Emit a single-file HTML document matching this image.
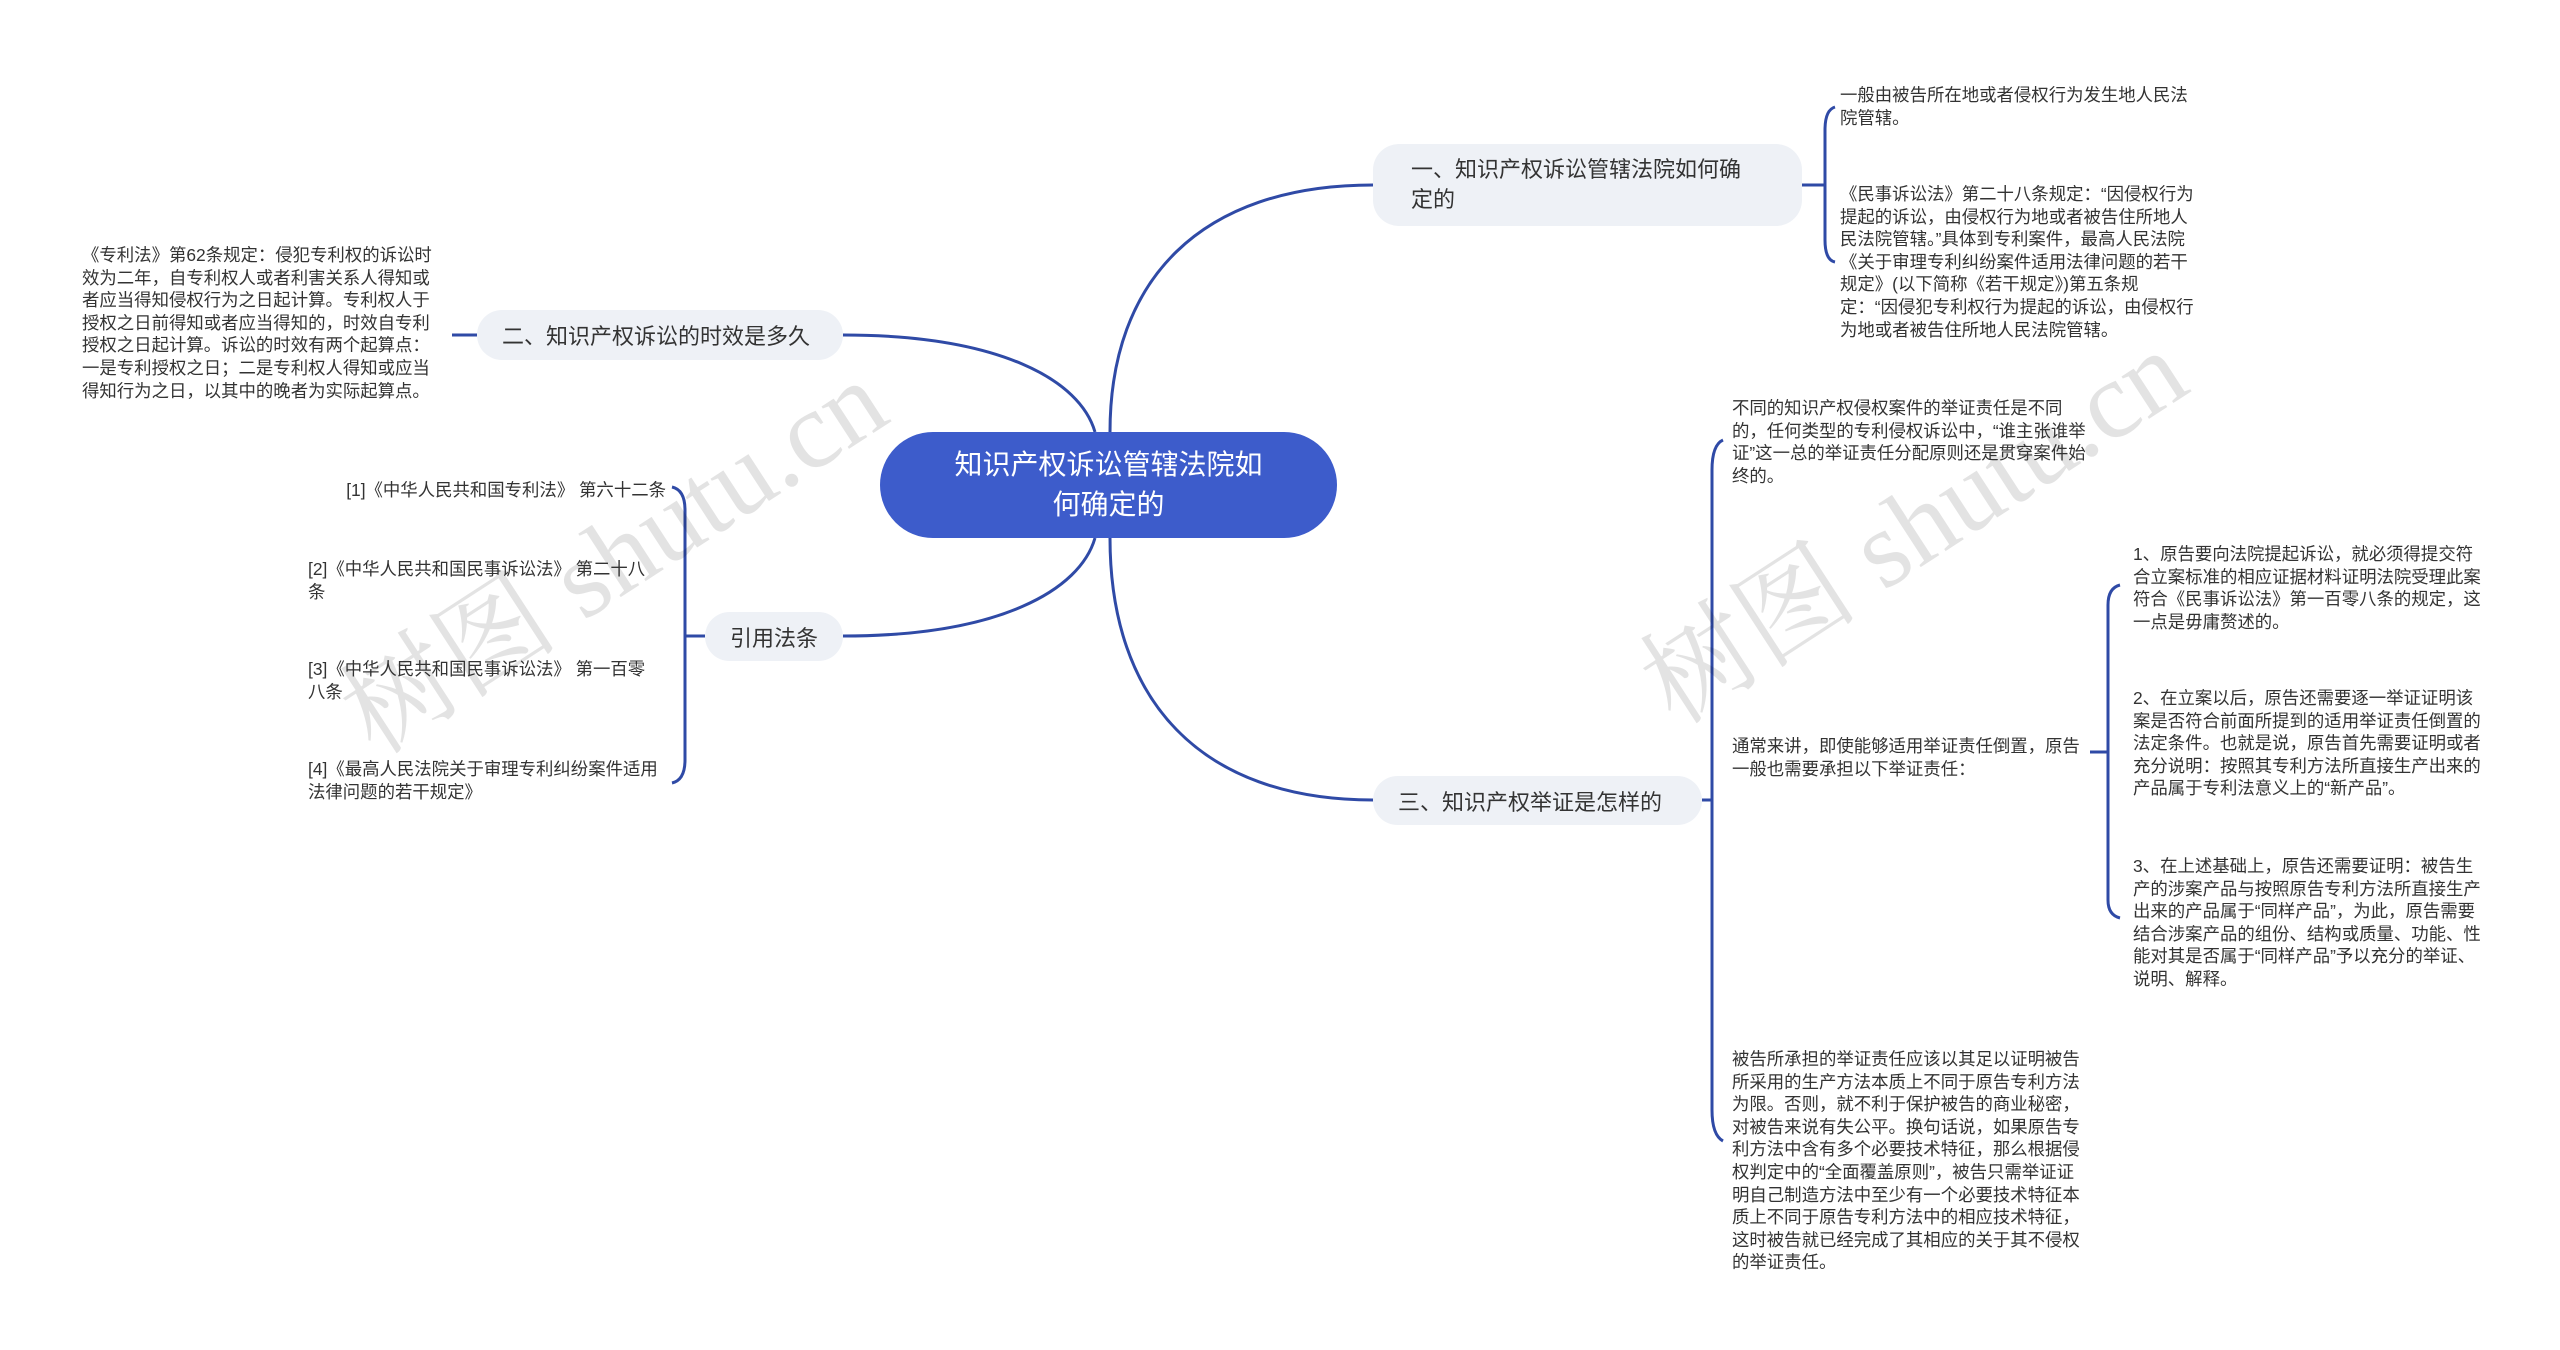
<!DOCTYPE html>
<html><head><meta charset="utf-8"><style>
body{margin:0;width:2560px;height:1350px;background:#fff;position:relative;overflow:hidden;font-family:"Liberation Sans","Noto Sans CJK SC",sans-serif;}
.t{position:absolute;font-size:17.4px;line-height:22.6px;color:#333;}
.b{position:absolute;background:#eef1f6;border-radius:26px;font-size:22px;color:#333;box-sizing:border-box;display:flex;align-items:center;}
.wm{position:absolute;font-family:"Liberation Serif","Noto Serif CJK SC",serif;font-size:110px;color:rgba(0,0,0,0.11);transform:rotate(-33deg);white-space:nowrap;}
</style></head><body>
<svg width="2560" height="1350" style="position:absolute;left:0;top:0">
<g fill="none" stroke="#2f4aa6" stroke-width="3">
<path d="M1110 432 C1110 280 1200 185 1373 185"/>
<path d="M1095 432 C1080 380 1000 335 843 335"/>
<path d="M1095 538 C1080 590 1000 636 843 636"/>
<path d="M1110 538 C1110 700 1200 800 1373 800"/>
<path d="M1802 185 H1825 M1835 107 Q1825 110 1825 130 V240 Q1825 260 1835 262"/>
<path d="M477 335 H452"/>
<path d="M705 636 H685 M672 487 Q685 490 685 510 V760 Q685 780 672 783"/>
<path d="M1702 800 H1712 M1723 440 Q1712 445 1712 470 V1110 Q1712 1135 1723 1141"/>
<path d="M2090 752 H2108 M2120 585 Q2108 588 2108 605 V900 Q2108 915 2120 918"/>
</g></svg>
<div class="wm" style="left:300px;top:470px;">树图 shutu.cn</div>
<div class="wm" style="left:1600px;top:440px;">树图 shutu.cn</div>

<div style="position:absolute;left:880px;top:432px;width:457px;height:106px;background:#3d5ccb;border-radius:53px;color:#fff;font-size:28px;line-height:40px;text-align:center;display:flex;align-items:center;justify-content:center;box-sizing:border-box;">知识产权诉讼管辖法院如<br>何确定的</div>

<div class="b" style="left:1373px;top:144px;width:429px;height:82px;padding:0 38px;line-height:30px;">一、知识产权诉讼管辖法院如何确<br>定的</div>
<div class="b" style="left:477px;top:310px;width:366px;height:50px;padding-left:25px;">二、知识产权诉讼的时效是多久</div>
<div class="b" style="left:705px;top:612px;width:138px;height:49px;justify-content:center;">引用法条</div>
<div class="b" style="left:1373px;top:776px;width:329px;height:49px;padding-left:25px;">三、知识产权举证是怎样的</div>

<div class="t" style="left:1840px;top:84px;width:356px;">一般由被告所在地或者侵权行为发生地人民法院管辖。</div>
<div class="t" style="left:1840px;top:183px;width:356px;">《民事诉讼法》第二十八条规定：“因侵权行为提起的诉讼，由侵权行为地或者被告住所地人民法院管辖。”具体到专利案件，最高人民法院《关于审理专利纠纷案件适用法律问题的若干规定》(以下简称《若干规定》)第五条规定：“因侵犯专利权行为提起的诉讼，由侵权行为地或者被告住所地人民法院管辖。</div>
<div class="t" style="left:82px;top:244px;width:354px;">《专利法》第62条规定：侵犯专利权的诉讼时效为二年，自专利权人或者利害关系人得知或者应当得知侵权行为之日起计算。专利权人于授权之日前得知或者应当得知的，时效自专利授权之日起计算。诉讼的时效有两个起算点：一是专利授权之日；二是专利权人得知或应当得知行为之日，以其中的晚者为实际起算点。</div>
<div class="t" style="left:310px;top:479px;width:356px;text-align:right;">[1]《中华人民共和国专利法》 第六十二条</div>
<div class="t" style="left:308px;top:558px;width:350px;">[2]《中华人民共和国民事诉讼法》 第二十八条</div>
<div class="t" style="left:308px;top:658px;width:350px;">[3]《中华人民共和国民事诉讼法》 第一百零八条</div>
<div class="t" style="left:308px;top:758px;width:350px;">[4]《最高人民法院关于审理专利纠纷案件适用法律问题的若干规定》</div>
<div class="t" style="left:1732px;top:397px;width:354px;">不同的知识产权侵权案件的举证责任是不同的，任何类型的专利侵权诉讼中，“谁主张谁举证”这一总的举证责任分配原则还是贯穿案件始终的。</div>
<div class="t" style="left:1732px;top:735px;width:354px;">通常来讲，即使能够适用举证责任倒置，原告一般也需要承担以下举证责任：</div>
<div class="t" style="left:1732px;top:1048px;width:354px;">被告所承担的举证责任应该以其足以证明被告所采用的生产方法本质上不同于原告专利方法为限。否则，就不利于保护被告的商业秘密，对被告来说有失公平。换句话说，如果原告专利方法中含有多个必要技术特征，那么根据侵权判定中的“全面覆盖原则”，被告只需举证证明自己制造方法中至少有一个必要技术特征本质上不同于原告专利方法中的相应技术特征，这时被告就已经完成了其相应的关于其不侵权的举证责任。</div>
<div class="t" style="left:2133px;top:543px;width:356px;">1、原告要向法院提起诉讼，就必须得提交符合立案标准的相应证据材料证明法院受理此案符合《民事诉讼法》第一百零八条的规定，这一点是毋庸赘述的。</div>
<div class="t" style="left:2133px;top:687px;width:356px;">2、在立案以后，原告还需要逐一举证证明该案是否符合前面所提到的适用举证责任倒置的法定条件。也就是说，原告首先需要证明或者充分说明：按照其专利方法所直接生产出来的产品属于专利法意义上的“新产品”。</div>
<div class="t" style="left:2133px;top:855px;width:356px;">3、在上述基础上，原告还需要证明：被告生产的涉案产品与按照原告专利方法所直接生产出来的产品属于“同样产品”，为此，原告需要结合涉案产品的组份、结构或质量、功能、性能对其是否属于“同样产品”予以充分的举证、说明、解释。</div>
</body></html>
